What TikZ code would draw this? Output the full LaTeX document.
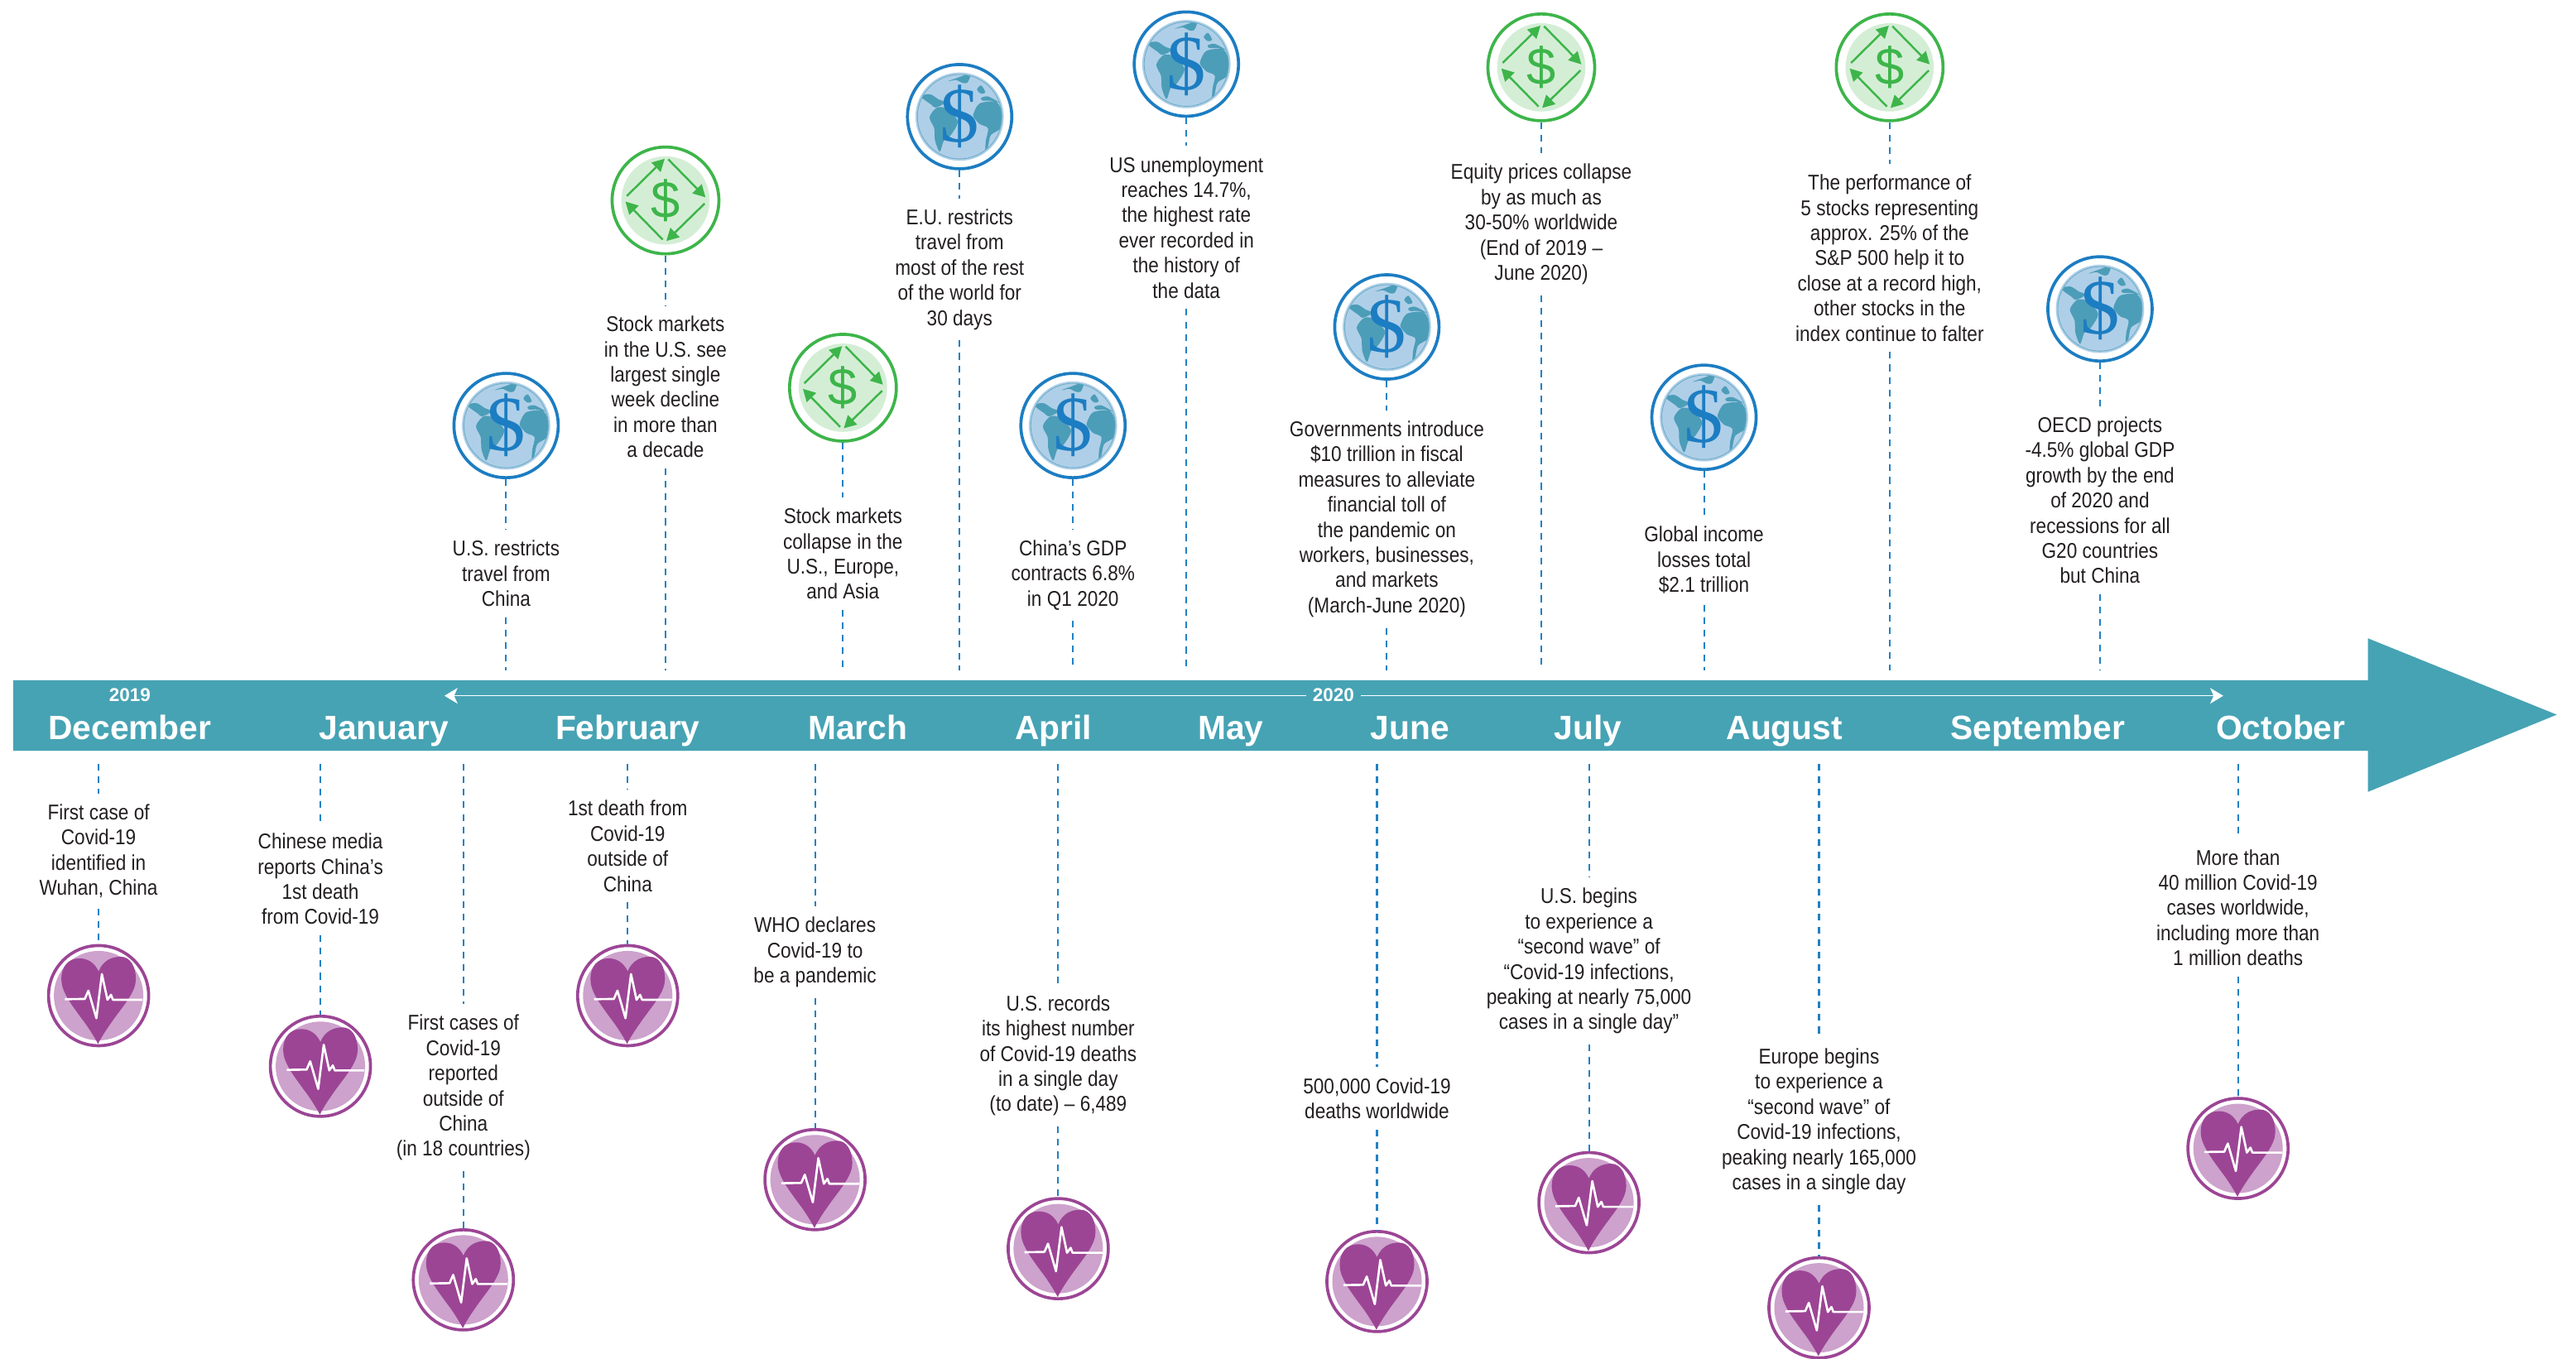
\documentclass[tikz,border=0pt]{standalone}
\usepackage{fontspec}
\setmainfont{Liberation Sans}[FakeStretch=0.875]
\newfontfamily\bandfont{Liberation Sans}
\newfontfamily\dollarfont{Liberation Serif}
\usetikzlibrary{arrows.meta}
\definecolor{bandcol}{HTML}{46A3B4}
\definecolor{guidecol}{HTML}{2181C4}
\definecolor{inkcol}{HTML}{231F20}
\definecolor{heartcol}{HTML}{9C4595}
\definecolor{heartpale}{HTML}{CDA2CC}
\definecolor{globecol}{HTML}{1C7DC2}
\definecolor{globepale}{HTML}{AFCFE8}
\definecolor{landcol}{HTML}{4C9DB8}
\definecolor{moneycol}{HTML}{3DB54A}
\definecolor{moneypale}{HTML}{D4EED6}
\tikzset{
  eventtext/.style={text=inkcol,align=center,inner xsep=0pt,inner ysep=3.5pt,
    font=\fontsize{7.35}{8.65}\selectfont},
  guideline/.style={draw=guidecol,line width=0.6pt,dash pattern=on 2.3pt off 2pt},
  monthtext/.style={text=white,inner sep=0pt,anchor=base,font=\fontsize{11.6}{12}\bandfont\bfseries},
  yeartext/.style={text=white,inner sep=1.5pt,font=\fontsize{6.4}{7}\bandfont\bfseries},
  yeararrow/.style={draw=white,line width=0.45pt,
    {Stealth[length=4.5pt,width=5.4pt,inset=1.2pt]}-{Stealth[length=4.5pt,width=5.4pt,inset=1.2pt]}},
  iconring/.style={circle,draw,fill=none,line width=1.05pt,inner sep=0pt},
  heartring/.style={iconring,draw=heartcol,minimum size=1.21cm},
  globering/.style={iconring,draw=globecol,text=globecol,minimum size=1.26cm,font=\fontsize{27}{27}\dollarfont},
  moneyring/.style={iconring,draw=moneycol,text=moneycol,minimum size=1.29cm,font=\fontsize{18}{18}\bandfont},
  heartart/.pic={
    \begin{scope}[scale=0.168]
      \fill[heartpale] (0,0) circle (162);
      \fill[heartcol] (0,-88) .. controls (15,-125) and (45,-141) .. (80,-141)
        .. controls (115,-141) and (135,-105) .. (135,-60)
        .. controls (135,-15) and (95,30) .. (55,85)
        .. controls (30,120) and (10,150) .. (-2,175)
        .. controls (-15,150) and (-40,110) .. (-60,85)
        .. controls (-100,30) and (-135,-15) .. (-135,-60)
        .. controls (-135,-105) and (-110,-135) .. (-70,-135)
        .. controls (-40,-135) and (-15,-120) .. cycle;
      \draw[white,line width=0.75pt,line join=round] (-122,13) -- (-50,12) -- (-37,-18)
        -- (-8,82) -- (12,-78) -- (32,15) -- (45,-3) -- (52,15) -- (160,15);
    \end{scope}
  },
  globeart/.pic={
    \begin{scope}[scale=0.168]
      \fill[globepale] (0,0) circle (160);
      \begin{scope}
        \clip (0,0) circle (153);
        \fill[landcol] plot[smooth cycle] coordinates {(-140,-73) (-107,-81) (-77,-63) (-52,-51) (-87,-33) (-102,-43)};
        \fill[landcol] plot[smooth cycle] coordinates {(-109,2) (-82,-33) (-47,-28) (-7,17) (-32,67) (-57,87) (-72,127) (-89,87) (-92,42)};
        \fill[landcol] plot[smooth cycle] coordinates {(-42,-128) (-7,-141) (38,-155) (28,-123) (8,-123) (-12,-133)};
        \fill[landcol] plot[smooth cycle] coordinates {(51,-13) (73,-48) (133,-53) (155,-8) (148,42) (113,67) (103,107) (93,127) (95,87) (103,42) (73,27) (51,2)};
        \fill[landcol] plot[smooth cycle] coordinates {(78,-68) (103,-73) (143,-51) (113,-58) (83,-58)};
        \fill[landcol] plot[smooth cycle] coordinates {(63,-98) (78,-113) (93,-88) (78,-83)};
      \end{scope}
      \draw[landcol!70!globepale,line width=0.25pt] (0,0) circle (153);
    \end{scope}
  },
  moneyart/.pic={
    \begin{scope}[scale=0.168]
      \fill[moneypale] (0,0) circle (160);
      \draw[moneycol,line width=0.7pt,-{Triangle[length=4.2pt,width=4.4pt]}] (-140,-16) -- (-3,-151);
      \draw[moneycol,line width=0.7pt,-{Triangle[length=4.2pt,width=4.4pt]}] (10,-149) -- (145,-11);
      \draw[moneycol,line width=0.7pt,-{Triangle[length=4.2pt,width=4.4pt]}] (142,11) -- (3,147);
      \draw[moneycol,line width=0.7pt,-{Triangle[length=4.2pt,width=4.4pt]}] (-10,142) -- (-145,4);
    \end{scope}
  }
}
\begin{document}
\begin{tikzpicture}[x=0.01985cm,y=-0.01985cm]
  \useasboundingbox (0,0) rectangle (1567.7,826.7);
  % band with the months
  \fill[bandcol] (8,414) -- (1441,414) -- (1441,388.5) -- (1556,435) -- (1441,482)
    -- (1441,457) -- (8,457) -- cycle;
  \foreach \n/\x in {December/79,January/233.5,February/382,March/522,April/641,May/749,
      June/858,July/966.5,August/1086,September/1240,October/1388}
    \node[monthtext] (m\n) at (\x,450.2) {\n};
  \node[yeartext] (y2019) at (79,423) {2019};
  \coordinate (yl) at (270.5,423.5);
  \coordinate (yr) at (1353,423.5);
  \draw[yeararrow] (yl) -- (yr);
  \node[yeartext,fill=bandcol,inner xsep=2.3pt] (y2020) at (811.5,423) {2020};
  % events above the band
  \foreach \n/\x/\iy/\ty/\kind/\txt in {
      1/308/259/349/globe/{U.S. restricts\\travel from\\China},
      2/405/122/235.5/money/{Stock markets\\in the U.S. see\\largest single\\week decline\\in more than\\a decade},
      3/513/236/337/money/{Stock markets\\collapse in the\\U.S., Europe,\\and Asia},
      4/584/71/164/globe/{E.U. restricts\\travel from\\most of the rest\\of the world for\\30 days},
      5/653/259/350/globe/{China’s GDP\\contracts 6.8\%\\in Q1 2020},
      6/722/39/138.5/globe/{US unemployment\\reaches 14.7\%,\\the highest rate\\ever recorded in\\the history of\\the data},
      7/844/199/316/globe/{Governments introduce\\\$10 trillion in fiscal\\measures to alleviate\\financial toll of\\the pandemic on\\workers, businesses,\\and markets\\(March-June 2020)},
      8/938/41/136.5/money/{Equity prices collapse\\by as much as\\30-50\% worldwide\\(End of 2019 –\\June 2020)},
      9/1037/254/341/globe/{Global income\\losses total\\\$2.1 trillion},
      10/1150/41/157/money/{The performance of\\5 stocks representing\\approx. 25\% of the\\S\&P 500 help it to\\close at a record high,\\other stocks in the\\index continue to falter},
      11/1278/188/304.5/globe/{OECD projects\\-4.5\% global GDP\\growth by the end\\of 2020 and\\recessions for all\\G20 countries\\but China}}
  {
    \coordinate (u\n) at (\x,408);
    \node[eventtext] (t\n) at (\x,\ty) {\txt};
    \pic at (\x,\iy) {\kind art};
    \node[\kind ring] (i\n) at (\x,\iy) {\$};
    \draw[guideline] (i\n) -- (t\n);
    \draw[guideline] (t\n) -- (u\n);
  }
  % events below the band
  \foreach \n/\x/\ty/\iy/\txt in {
      1/60/518/606/{First case of\\Covid-19\\identified in\\Wuhan, China},
      2/195/535/649/{Chinese media\\reports China’s\\1st death\\from Covid-19},
      3/282/662/779/{First cases of\\Covid-19\\reported\\outside of\\China\\(in 18 countries)},
      4/382/515/606/{1st death from\\Covid-19\\outside of\\China},
      5/496/579.5/718/{WHO declares\\Covid-19 to\\be a pandemic},
      6/644/642.5/760/{U.S. records\\its highest number\\of Covid-19 deaths\\in a single day\\(to date) – 6,489},
      7/838/668.5/780/{500,000 Covid-19\\deaths worldwide},
      8/967/585/732/{U.S. begins\\to experience a\\“second wave” of\\“Covid-19 infections,\\peaking at nearly 75,000\\cases in a single day”},
      9/1107/682.5/796/{Europe begins\\to experience a\\“second wave” of\\Covid-19 infections,\\peaking nearly 165,000\\cases in a single day},
      10/1362/552.5/699/{More than\\40 million Covid-19\\cases worldwide,\\including more than\\1 million deaths}}
  {
    \coordinate (d\n) at (\x,465);
    \node[eventtext] (e\n) at (\x,\ty) {\txt};
    \pic at (\x,\iy) {heartart};
    \node[heartring] (h\n) at (\x,\iy) {};
    \draw[guideline] (d\n) -- (e\n);
    \draw[guideline] (e\n) -- (h\n);
  }
\end{tikzpicture}
\end{document}
